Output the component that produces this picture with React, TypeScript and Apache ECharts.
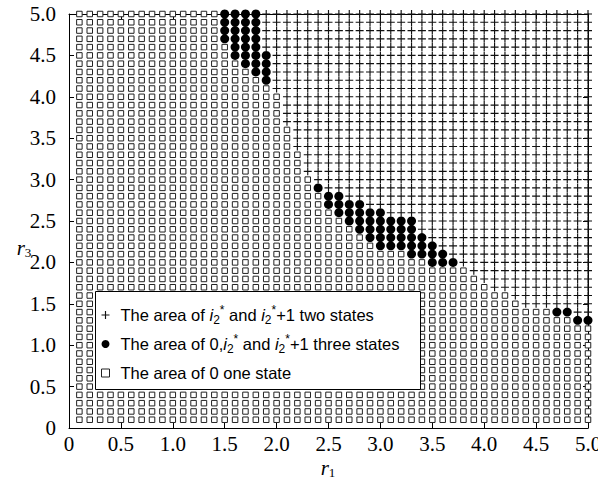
import React, { useEffect, useRef } from 'react';
import * as echarts from 'echarts';

const R_GRID = [
  0.1, 0.2, 0.3, 0.4, 0.5, 0.6, 0.7, 0.8, 0.9, 1.0,
  1.1, 1.2, 1.3, 1.4, 1.5, 1.6, 1.7, 1.8, 1.9, 2.0,
  2.1, 2.2, 2.3, 2.4, 2.5, 2.6, 2.7, 2.8, 2.9, 3.0,
  3.1, 3.2, 3.3, 3.4, 3.5, 3.6, 3.7, 3.8, 3.9, 4.0,
  4.1, 4.2, 4.3, 4.4, 4.5, 4.6, 4.7, 4.8, 4.9, 5.0,
];

// Per row (r3): first r1 of the "two states" (+) region, and the range of "three states" dots
const ROW_R3 = [5.0, 4.9, 4.8, 4.7, 4.6, 4.5, 4.4, 4.3, 4.2, 4.1, 4.0, 3.9, 3.8, 3.7, 3.6, 3.5, 3.4, 3.3, 3.2, 3.1, 3.0, 2.9, 2.8, 2.7, 2.6, 2.5, 2.4, 2.3, 2.2, 2.1, 2.0, 1.9, 1.8, 1.7, 1.6, 1.5, 1.4, 1.3];
const PLUS_FROM = [1.9, 1.9, 1.9, 1.9, 1.9, 2.0, 2.0, 2.0, 2.0, 2.0, 2.1, 2.1, 2.1, 2.1, 2.2, 2.2, 2.2, 2.3, 2.3, 2.3, 2.4, 2.5, 2.7, 2.9, 3.1, 3.4, 3.4, 3.5, 3.6, 3.7, 3.8, 3.9, 4.0, 4.1, 4.3, 4.4, 4.9, null];
const DOT_FROM = [1.5, 1.5, 1.5, 1.5, 1.6, 1.6, 1.7, 1.8, 1.9, null, null, null, null, null, null, null, null, null, null, null, null, 2.4, 2.5, 2.5, 2.6, 2.7, 2.8, 2.9, 3.0, 3.3, 3.5, null, null, null, null, null, 4.7, 4.9];
const DOT_TO = [1.8, 1.8, 1.8, 1.8, 1.8, 1.9, 1.9, 1.9, 1.9, null, null, null, null, null, null, null, null, null, null, null, null, 2.4, 2.6, 2.8, 3.0, 3.3, 3.3, 3.4, 3.5, 3.6, 3.7, null, null, null, null, null, 4.8, 5.0];

const X_TICK_LABELS = ['0', '0.5', '1.0', '1.5', '2.0', '2.5', '3.0', '3.5', '4.0', '4.5', '5.0'];
const Y_TICK_LABELS = ['0', '0.5', '1.0', '1.5', '2.0', '2.5', '3.0', '3.5', '4.0', '4.5', '5.0'];

const LEGEND_TEXTS: Record<string, string> = {
  two: 'The area of {it|i}{sub|2}{sup|*} and {it|i}{sub|2}{sup|*}+1 two states',
  three: 'The area of 0,{it|i}{sub|2}{sup|*} and {it|i}{sub|2}{sup|*}+1 three states',
  one: 'The area of 0 one state',
};

const t = (v: number) => Math.round(v * 10);

function classify() {
  const plus: number[][] = [];
  const dots: number[][] = [];
  const squares: number[][] = [];
  for (const r3 of R_GRID) {
    const ri = ROW_R3.findIndex((v) => t(v) === t(r3));
    for (const r1 of R_GRID) {
      let kind = 'one';
      if (ri >= 0) {
        const df = DOT_FROM[ri];
        const dt = DOT_TO[ri];
        const pf = PLUS_FROM[ri];
        if (df !== null && dt !== null && t(r1) >= t(df) && t(r1) <= t(dt)) kind = 'three';
        else if (pf !== null && t(r1) >= t(pf)) kind = 'two';
      }
      if (kind === 'two') plus.push([r1, r3]);
      else if (kind === 'three') dots.push([r1, r3]);
      else squares.push([r1, r3]);
    }
  }
  return { plus, dots, squares };
}

const PLUS_PATH = 'path://M3,0h1v3h3v1h-3v3h-1v-3h-3v-1h3z';
const SQUARE_PATH = 'path://M0,0H10V10H0Z';
const SERIF = 'Liberation Serif';
const SANS = 'Liberation Sans';

export default function App() {
  const ref = useRef<HTMLDivElement>(null);
  useEffect(() => {
    if (!ref.current) return;
    const chart = echarts.init(ref.current, undefined, { renderer: 'svg' });
    const { plus, dots, squares } = classify();

    const axisCommon = {
      type: 'value' as const,
      min: 0,
      max: 5,
      interval: 0.5,
      splitLine: { show: false },
      axisLine: { show: true, onZero: false, lineStyle: { color: '#000', width: 1 } },
      axisTick: { show: true, inside: true, length: 5, lineStyle: { color: '#000' } },
    };

    const legendFont = 16.5;

    const option: any = {
      animation: false,
      backgroundColor: '#fff',
      grid: { left: 69, right: 10, top: 14, bottom: 56, outerBoundsMode: 'none', containLabel: false },
      xAxis: [
        {
          ...axisCommon,
          position: 'bottom',
          axisLabel: {
            margin: 5,
            fontFamily: SERIF,
            fontSize: 21,
            lineHeight: 21,
            color: '#000',
            formatter: (_v: number, i: number) => X_TICK_LABELS[i],
          },
        },
        { ...axisCommon, position: 'top', axisLabel: { show: false } },
      ],
      yAxis: [
        {
          ...axisCommon,
          position: 'left',
          axisLabel: {
            margin: 13,
            fontFamily: SERIF,
            fontSize: 21,
            lineHeight: 21,
            color: '#000',
            formatter: (_v: number, i: number) => Y_TICK_LABELS[i],
          },
        },
        { ...axisCommon, position: 'right', axisLabel: { show: false } },
      ],
      legend: {
        orient: 'vertical',
        left: 101,
        top: 304,
        padding: 0,
        itemWidth: 20,
        itemHeight: 8,
        itemGap: 7,
        z: 6,
        symbolKeepAspect: true,
        data: [
          { name: 'two', icon: PLUS_PATH, itemStyle: { color: '#111', borderWidth: 0 } },
          { name: 'three', icon: 'circle', itemStyle: { color: '#000', borderWidth: 0 } },
          { name: 'one', icon: SQUARE_PATH, itemStyle: { color: '#fff', borderColor: '#222', borderWidth: 1 } },
        ],
        selectedMode: false,
        formatter: (name: string) => LEGEND_TEXTS[name],
        textStyle: {
          fontFamily: SANS,
          fontSize: legendFont,
          color: '#000',
          lineHeight: 22,
          rich: {
            it: { fontFamily: SANS, fontSize: legendFont, fontStyle: 'italic', color: '#000', lineHeight: 22 },
            sub: { fontFamily: SANS, fontSize: 12, color: '#000', verticalAlign: 'bottom', lineHeight: 12 },
            sup: { fontFamily: SANS, fontSize: 12, color: '#000', verticalAlign: 'top', lineHeight: 12 },
          },
        },
      },
      graphic: [
        {
          type: 'rect',
          z: 5,
          shape: { x: 95.5, y: 291.5, width: 325, height: 98 },
          style: { fill: '#fff', stroke: '#000', lineWidth: 1 },
        },
        {
          type: 'text',
          z: 5,
          x: 328,
          y: 468,
          style: {
            text: '{r|r}{s|1}',
            align: 'center',
            verticalAlign: 'middle',
            rich: {
              r: { fontFamily: SERIF, fontStyle: 'italic', fontSize: 21, lineHeight: 22, fill: '#000' },
              s: { fontFamily: SERIF, fontSize: 13, verticalAlign: 'bottom', lineHeight: 11, fill: '#000' },
            },
          },
        },
        {
          type: 'text',
          z: 5,
          x: 24,
          y: 248,
          style: {
            text: '{r|r}{s|3}',
            align: 'center',
            verticalAlign: 'middle',
            rich: {
              r: { fontFamily: SERIF, fontStyle: 'italic', fontSize: 21, lineHeight: 22, fill: '#000' },
              s: { fontFamily: SERIF, fontSize: 13, verticalAlign: 'bottom', lineHeight: 11, fill: '#000' },
            },
          },
        },
      ],
      series: [
        {
          name: 'one',
          type: 'scatter',
          data: squares,
          symbol: 'rect',
          symbolSize: 5.5,
          progressive: 0,
          itemStyle: { color: '#fff', borderColor: '#222', borderWidth: 1, opacity: 1 },
          emphasis: { disabled: true },
          z: 2,
        },
        {
          name: 'two',
          type: 'scatter',
          data: plus,
          symbol: PLUS_PATH,
          symbolSize: 8,
          progressive: 0,
          itemStyle: { color: '#111', opacity: 1 },
          emphasis: { disabled: true },
          z: 2,
        },
        {
          name: 'three',
          type: 'scatter',
          data: dots,
          symbol: 'circle',
          symbolSize: 9,
          progressive: 0,
          itemStyle: { color: '#000', opacity: 1 },
          emphasis: { disabled: true },
          z: 2,
        },
      ],
    };
    chart.setOption(option);
    return () => chart.dispose();
  }, []);

  return (
    <div
      ref={ref}
      style={{ position: 'fixed', left: 0, top: 0, width: 598, height: 484, background: '#fff' }}
    />
  );
}
